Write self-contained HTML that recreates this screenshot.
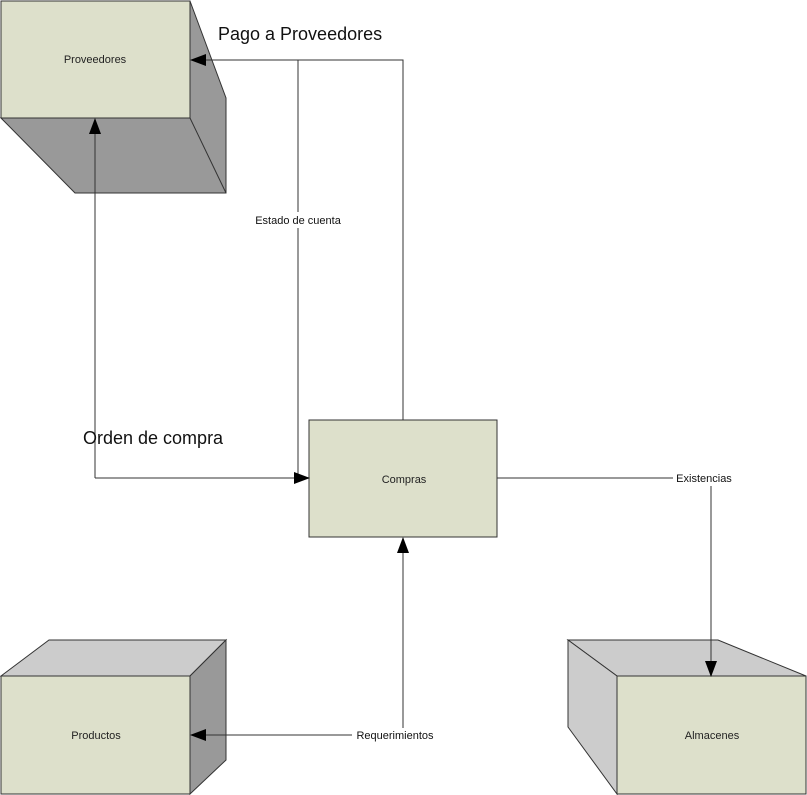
<!DOCTYPE html>
<html><head><style>body{margin:0;background:#fff;}svg{display:block}</style></head>
<body>
<svg width="807" height="795" viewBox="0 0 807 795" xmlns="http://www.w3.org/2000/svg" font-family="Liberation Sans, DejaVu Sans, sans-serif">
<defs><marker id="a" markerWidth="10" markerHeight="10" refX="9" refY="5" orient="auto" markerUnits="userSpaceOnUse"><path d="M0,0 L10,5 L0,10 Z" fill="#000"/></marker>
<marker id="b" markerWidth="16" markerHeight="12" refX="15" refY="6" orient="auto" markerUnits="userSpaceOnUse"><path d="M0,0 L16,6 L0,12 Z" fill="#000"/></marker></defs>
<!-- Proveedores -->
<polygon points="1,118 190,118 190,1 226,98 226,193 75,193" fill="#999" stroke="#333" stroke-width="1"/>
<line x1="190" y1="118" x2="226" y2="193" stroke="#333"/>
<rect x="1" y="1" width="189" height="117" fill="#dde0cb" stroke="#333"/>
<text x="95" y="63" font-size="11" text-anchor="middle" fill="#222">Proveedores</text>
<!-- Productos -->
<polygon points="1,676 49,640 226,640 190,676" fill="#ccc" stroke="#333"/>
<polygon points="190,676 226,640 226,760 190,794" fill="#999" stroke="#333"/>
<rect x="1" y="676" width="189" height="118" fill="#dde0cb" stroke="#333"/>
<text x="96" y="739" font-size="11" text-anchor="middle" fill="#222">Productos</text>
<!-- Almacenes -->
<polygon points="568,640 718,640 806,676 617,676" fill="#ccc" stroke="#333"/>
<polygon points="568,640 617,676 617,794 568,727" fill="#ccc" stroke="#333"/>
<rect x="617" y="676" width="189" height="118" fill="#dde0cb" stroke="#333"/>
<text x="712" y="739" font-size="11" text-anchor="middle" fill="#222">Almacenes</text>
<!-- Compras -->
<rect x="309" y="420" width="188" height="117" fill="#dde0cb" stroke="#333"/>
<text x="404" y="483" font-size="11" text-anchor="middle" fill="#222">Compras</text>
<!-- connectors -->
<g fill="none" stroke="#333" stroke-width="1">
<polyline points="403,420 403,60 191,60" marker-end="url(#b)"/>
<polyline points="298,60 298,478 309,478" />
<polyline points="95,478 309,478" marker-end="url(#b)"/>
<polyline points="95,478 95,119" marker-end="url(#b)"/>
<polyline points="497,478 711,478 711,676" marker-end="url(#b)"/>
<polyline points="403,735 403,538" marker-end="url(#b)"/>
<polyline points="403,735 191,735" marker-end="url(#b)"/>
</g>
<rect x="250" y="212" width="96" height="16" fill="#fff"/>
<text x="298" y="224" font-size="11" text-anchor="middle" fill="#111">Estado de cuenta</text>
<rect x="673" y="471" width="62" height="15" fill="#fff"/>
<text x="704" y="482" font-size="11" text-anchor="middle" fill="#111">Existencias</text>
<rect x="352" y="728" width="86" height="15" fill="#fff"/>
<text x="395" y="739" font-size="11" text-anchor="middle" fill="#111">Requerimientos</text>
<text x="218" y="40" font-size="18" fill="#111">Pago a Proveedores</text>
<text x="83" y="444" font-size="18" fill="#111">Orden de compra</text>
</svg>
</body></html>
